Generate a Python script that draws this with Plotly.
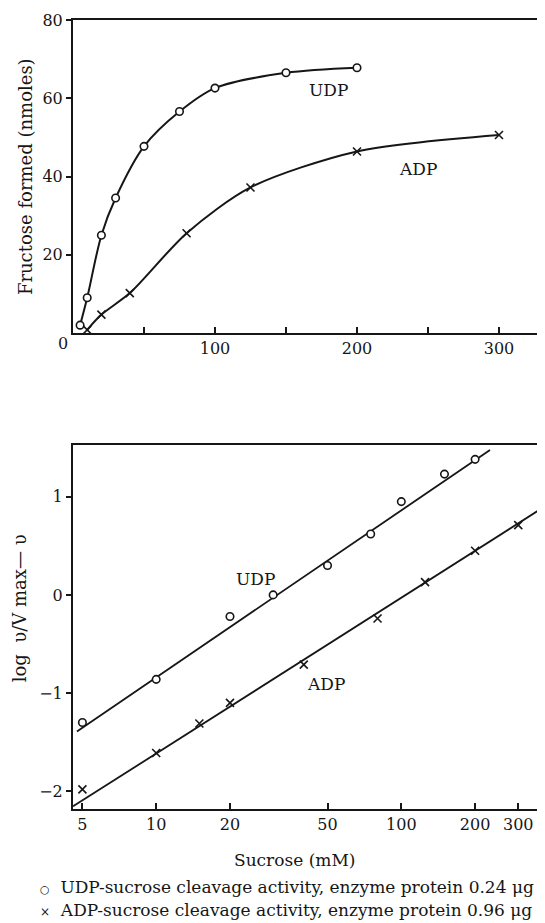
import math
import plotly.graph_objects as go

# ---- data ----
udp_conc = [5, 10, 20, 30, 50, 75, 100, 150, 200]
udp_fructose = [2.0, 9.0, 25.0, 34.5, 47.7, 56.6, 62.6, 66.5, 67.8]
adp_conc = [10, 20, 40, 80, 125, 200, 300]
adp_fructose = [0.8, 4.7, 10.2, 25.5, 37.2, 46.4, 50.6]

udp_log_ratio = [-1.30, -0.86, -0.22, 0.00, 0.30, 0.62, 0.95, 1.23, 1.38]
adp_conc_b = [5, 10, 15, 20, 40, 80, 125, 200, 300]
adp_log_ratio = [-1.98, -1.61, -1.31, -1.10, -0.71, -0.24, 0.13, 0.45, 0.71]

udp_fit_conc = [4.75, 230]
udp_fit_val = [-1.39, 1.476]
adp_fit_conc = [4.58, 378]
adp_fit_val = [-2.153, 0.888]

top_xticks = [100, 200, 300]
top_yticks = [20, 40, 60, 80]
bot_xticks = [5, 10, 20, 50, 100, 200, 300]
bot_yticks = [-2, -1, 0, 1]
bot_yticktext = ["\u22122", "\u22121", "0", "1"]

FONT = "DejaVu Serif"
INK = "#161616"

circle_marker = dict(symbol="circle", size=7.5, color="white",
                     line=dict(color=INK, width=1.6))
cross_marker = dict(symbol="x-thin", size=8, color=INK,
                    line=dict(color=INK, width=1.6))

fig = go.Figure()

# top panel: curves
fig.add_trace(go.Scatter(x=udp_conc, y=udp_fructose, mode="lines+markers",
                         line=dict(color=INK, width=2, shape="spline", smoothing=0.9),
                         marker=circle_marker, xaxis="x", yaxis="y"))
fig.add_trace(go.Scatter(x=adp_conc, y=adp_fructose, mode="lines+markers",
                         line=dict(color=INK, width=2, shape="spline", smoothing=0.8),
                         marker=cross_marker, xaxis="x", yaxis="y"))

# bottom panel: fitted lines + points
fig.add_trace(go.Scatter(x=udp_fit_conc, y=udp_fit_val, mode="lines",
                         line=dict(color=INK, width=1.8), xaxis="x2", yaxis="y2"))
fig.add_trace(go.Scatter(x=adp_fit_conc, y=adp_fit_val, mode="lines",
                         line=dict(color=INK, width=1.8), xaxis="x2", yaxis="y2"))
fig.add_trace(go.Scatter(x=udp_conc, y=udp_log_ratio, mode="markers",
                         marker=circle_marker, xaxis="x2", yaxis="y2"))
fig.add_trace(go.Scatter(x=adp_conc_b, y=adp_log_ratio, mode="markers",
                         marker=cross_marker, xaxis="x2", yaxis="y2"))

axis_common = dict(showline=True, linecolor=INK, linewidth=2, mirror=True,
                   showgrid=False, zeroline=False, tickcolor=INK, tickwidth=1.5,
                   automargin=False,
                   tickfont=dict(family=FONT, size=16, color=INK))

# the page body adds an 8px margin, so the figure is 8px smaller than the window
fig.update_layout(
    width=537, height=915,
    margin=dict(l=65, r=2, t=12, b=114),
    paper_bgcolor="white", plot_bgcolor="white",
    showlegend=False,
    font=dict(family=FONT, color=INK),
    xaxis=dict(axis_common, anchor="y", domain=[0, 1], range=[0, 331],
               tickvals=top_xticks, ticks="inside", ticklen=6,
               minor=dict(dtick=50, tick0=0, ticks="inside", ticklen=6,
                          tickcolor=INK, tickwidth=1.5)),
    yaxis=dict(axis_common, anchor="x", domain=[0.6033, 1.0], range=[0, 80],
               tickvals=top_yticks, ticks="outside", ticklen=5),
    xaxis2=dict(axis_common, anchor="y2", domain=[0, 1], type="log",
                range=[0.6606, 2.578], tickvals=bot_xticks,
                ticktext=[str(v) for v in bot_xticks],
                ticks="inside", ticklen=6),
    yaxis2=dict(axis_common, anchor="x2", domain=[0, 0.4613], range=[-2.18, 1.526],
                tickvals=bot_yticks, ticktext=bot_yticktext,
                ticks="outside", ticklen=5),
)

lab_font = dict(family=FONT, size=17, color=INK)
title_font = dict(family=FONT, size=18, color=INK)
C = dict(showarrow=False, xanchor="center", yanchor="middle")
annotations = [
    # in-plot labels
    dict(C, x=180, y=62, xref="x", yref="y", text="UDP", font=lab_font),
    dict(C, x=243, y=42, xref="x", yref="y", text="ADP", font=lab_font),
    dict(C, x=math.log10(25.5), y=0.16, xref="x2", yref="y2", text="UDP", font=lab_font),
    dict(C, x=math.log10(49.5), y=-0.91, xref="x2", yref="y2", text="ADP", font=lab_font),
    # "0" at corner of top chart
    dict(C, x=-0.0213, y=0.5906, xref="paper", yref="paper", text="0",
         font=dict(family=FONT, size=16, color=INK)),
    # axis titles
    dict(C, x=-0.102, y=0.801, xref="paper", yref="paper", text="Fructose formed (nmoles)",
         textangle=-90, font=title_font),
    dict(C, x=-0.112, y=0.2548, xref="paper", yref="paper",
         text="log  \u03c5/V max\u2014 \u03c5", textangle=-90, font=title_font),
    dict(C, x=0.472, y=-0.0646, xref="paper", yref="paper", text="Sucrose (mM)",
         font=lab_font),
    # legend lines
    dict(showarrow=False, xanchor="left", yanchor="middle",
         x=-0.0745, y=-0.0989, xref="paper", yref="paper",
         text="<span style='font-size:11px'>\u25cb</span>  UDP-sucrose cleavage activity, enzyme protein 0.24 \u03bcg",
         font=dict(family=FONT, size=17, color=INK)),
    dict(showarrow=False, xanchor="left", yanchor="middle",
         x=-0.0745, y=-0.128, xref="paper", yref="paper",
         text="<span style='font-size:12px'>\u00d7</span>  ADP-sucrose cleavage activity, enzyme protein 0.96 \u03bcg",
         font=dict(family=FONT, size=17, color=INK)),
]
fig.update_layout(annotations=annotations)

fig.write_html("out.html")
